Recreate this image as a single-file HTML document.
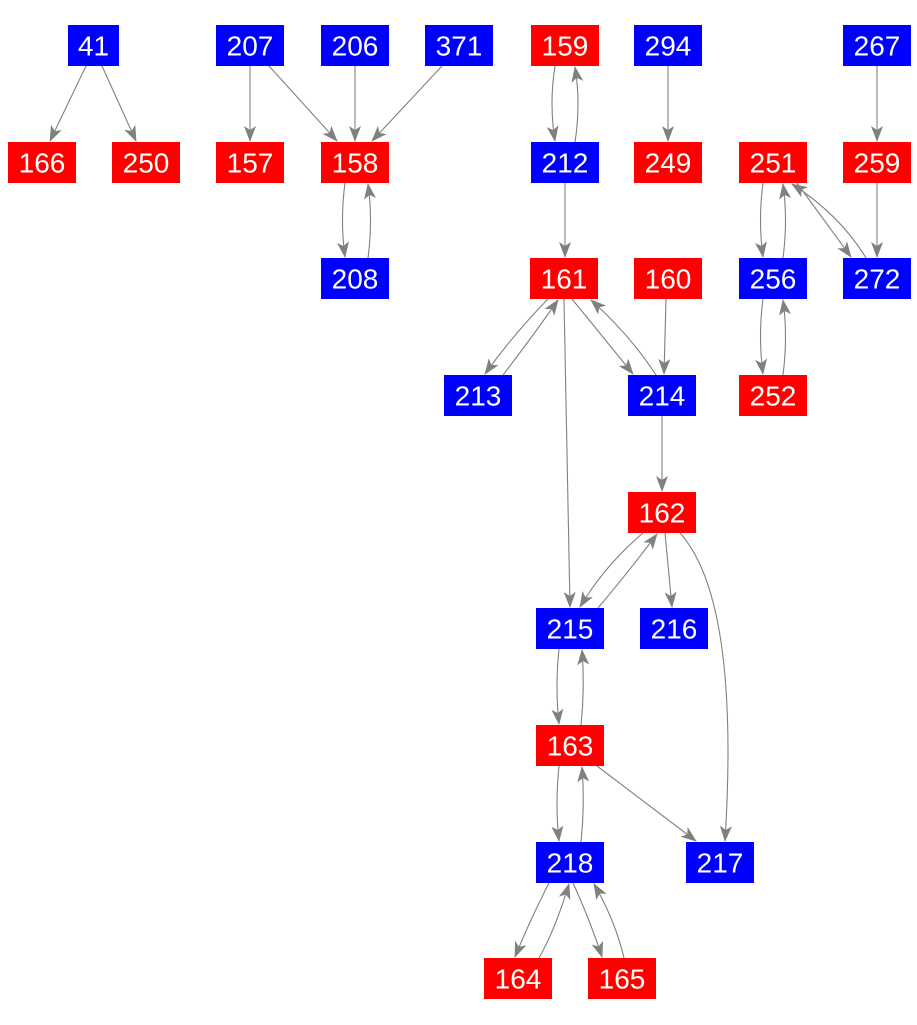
<!DOCTYPE html>
<html><head><meta charset="utf-8"><style>
html,body{margin:0;padding:0;background:#fff;}
svg{display:block;}
text{font-family:"Liberation Sans",Arial,sans-serif;font-size:28px;fill:#fff;text-anchor:middle;}
path.e{fill:none;stroke:#808080;stroke-width:1.1;}
</style></head><body>
<svg width="917" height="1025" viewBox="0 0 917 1025" xmlns="http://www.w3.org/2000/svg">
<defs><marker id="a" markerWidth="16" markerHeight="12" refX="15" refY="6" orient="auto" markerUnits="userSpaceOnUse"><path d="M0,0 L16,6 L0,12 L4,6 Z" fill="#808080" stroke="none"/></marker></defs>
<g marker-end="url(#a)">
<path class="e" d="M86,66 L50,141"/>
<path class="e" d="M102,66 L136,141"/>
<path class="e" d="M250,66 L250,141"/>
<path class="e" d="M269,66 L337,141"/>
<path class="e" d="M355,66 L355,141"/>
<path class="e" d="M442,66 L372,141"/>
<path class="e" d="M345,183 Q340,220 345,257"/>
<path class="e" d="M368,258 Q373,220 368,184"/>
<path class="e" d="M555,66 Q549,104 555,141"/>
<path class="e" d="M575,142 Q581,104 575,67"/>
<path class="e" d="M668,66 L668,141"/>
<path class="e" d="M877,66 L877,141"/>
<path class="e" d="M565,183 L565,257"/>
<path class="e" d="M763,183 Q758,220 763,257"/>
<path class="e" d="M783,258 Q788,220 783,184"/>
<path class="e" d="M797,183 L851,257"/>
<path class="e" d="M866,258 Q840,215 792,184"/>
<path class="e" d="M877,183 L877,257"/>
<path class="e" d="M763,299 Q758,336 763,374"/>
<path class="e" d="M783,375 Q788,336 783,300"/>
<path class="e" d="M548,299 Q512,336 485,374"/>
<path class="e" d="M503,375 Q530,340 558,300"/>
<path class="e" d="M572,299 L633,374"/>
<path class="e" d="M656,375 Q630,335 591,300"/>
<path class="e" d="M666,299 L664,374"/>
<path class="e" d="M564,299 L570,607"/>
<path class="e" d="M662,416 L662,491"/>
<path class="e" d="M643,533 Q605,565 580,607"/>
<path class="e" d="M598,608 Q630,570 657,534"/>
<path class="e" d="M665,533 L672,607"/>
<path class="e" d="M680,533 Q740,600 725,841"/>
<path class="e" d="M559,649 Q555,687 559,724"/>
<path class="e" d="M581,725 Q585,687 582,650"/>
<path class="e" d="M559,766 Q555,804 559,841"/>
<path class="e" d="M581,842 Q585,804 582,767"/>
<path class="e" d="M597,766 L696,841"/>
<path class="e" d="M549,883 Q530,920 515,957"/>
<path class="e" d="M539,958 Q555,930 569,884"/>
<path class="e" d="M573,883 Q590,920 602,957"/>
<path class="e" d="M624,958 Q615,920 594,884"/>
</g>
<g>
<rect x="68" y="25" width="51" height="41" fill="#00f"/><text x="93.5" y="55.5">41</text>
<rect x="216" y="25" width="68" height="41" fill="#00f"/><text x="250" y="55.5">207</text>
<rect x="321" y="25" width="68" height="41" fill="#00f"/><text x="355" y="55.5">206</text>
<rect x="425" y="25" width="68" height="41" fill="#00f"/><text x="459" y="55.5">371</text>
<rect x="531" y="25" width="68" height="41" fill="#f00"/><text x="565" y="55.5">159</text>
<rect x="634" y="25" width="68" height="41" fill="#00f"/><text x="668" y="55.5">294</text>
<rect x="843" y="25" width="68" height="41" fill="#00f"/><text x="877" y="55.5">267</text>

<rect x="8" y="142" width="68" height="41" fill="#f00"/><text x="42" y="172.5">166</text>
<rect x="112" y="142" width="68" height="41" fill="#f00"/><text x="146" y="172.5">250</text>
<rect x="216" y="142" width="68" height="41" fill="#f00"/><text x="250" y="172.5">157</text>
<rect x="321" y="142" width="68" height="41" fill="#f00"/><text x="355" y="172.5">158</text>
<rect x="531" y="142" width="68" height="41" fill="#00f"/><text x="565" y="172.5">212</text>
<rect x="634" y="142" width="68" height="41" fill="#f00"/><text x="668" y="172.5">249</text>
<rect x="739" y="142" width="68" height="41" fill="#f00"/><text x="773" y="172.5">251</text>
<rect x="843" y="142" width="68" height="41" fill="#f00"/><text x="877" y="172.5">259</text>

<rect x="321" y="258" width="68" height="41" fill="#00f"/><text x="355" y="288.5">208</text>
<rect x="530" y="258" width="68" height="41" fill="#f00"/><text x="564" y="288.5">161</text>
<rect x="634" y="258" width="68" height="41" fill="#f00"/><text x="668" y="288.5">160</text>
<rect x="739" y="258" width="68" height="41" fill="#00f"/><text x="773" y="288.5">256</text>
<rect x="843" y="258" width="68" height="41" fill="#00f"/><text x="877" y="288.5">272</text>

<rect x="444" y="375" width="68" height="41" fill="#00f"/><text x="478" y="405.5">213</text>
<rect x="628" y="375" width="68" height="41" fill="#00f"/><text x="662" y="405.5">214</text>
<rect x="739" y="375" width="68" height="41" fill="#f00"/><text x="773" y="405.5">252</text>

<rect x="628" y="492" width="68" height="41" fill="#f00"/><text x="662" y="522.5">162</text>

<rect x="536" y="608" width="68" height="41" fill="#00f"/><text x="570" y="638.5">215</text>
<rect x="640" y="608" width="68" height="41" fill="#00f"/><text x="674" y="638.5">216</text>

<rect x="536" y="725" width="68" height="41" fill="#f00"/><text x="570" y="755.5">163</text>

<rect x="536" y="842" width="68" height="41" fill="#00f"/><text x="570" y="872.5">218</text>
<rect x="686" y="842" width="68" height="41" fill="#00f"/><text x="720" y="872.5">217</text>

<rect x="484" y="958" width="68" height="41" fill="#f00"/><text x="518" y="988.5">164</text>
<rect x="588" y="958" width="68" height="41" fill="#f00"/><text x="622" y="988.5">165</text>
</g>
</svg>
</body></html>
